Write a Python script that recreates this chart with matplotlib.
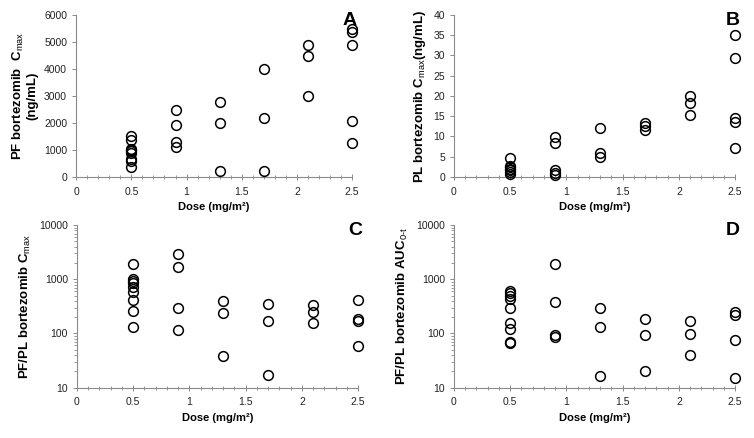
import matplotlib
matplotlib.use("Agg")
import matplotlib.pyplot as plt
from matplotlib.ticker import MultipleLocator, FixedLocator, FuncFormatter, LogLocator, NullFormatter

plt.rcParams.update({
    "font.family": ["Liberation Sans", "DejaVu Sans"],
    "mathtext.fontset": "custom",
    "mathtext.rm": "Liberation Sans",
    "mathtext.it": "Liberation Sans",
    "mathtext.bf": "Liberation Sans:bold",
})

# dose levels (mg/m2)
doses = [0.5, 0.9, 1.3, 1.7, 2.1, 2.5]

# A: PF bortezomib Cmax (ng/mL)
pf_cmax = [
    [1500, 1350, 1050, 1000, 950, 900, 650, 600, 380],
    [2480, 1920, 1300, 1120],
    [2790, 1980, 235],
    [4000, 2170, 210],
    [4900, 4490, 3000],
    [5480, 5370, 4870, 2080, 1265],
]

# B: PL bortezomib Cmax (ng/mL)
pl_cmax = [
    [4.7, 2.8, 2.4, 2.0, 1.6, 1.2, 0.8],
    [9.8, 8.5, 1.7, 1.0, 0.4],
    [12.1, 6.0, 5.0],
    [13.2, 12.6, 11.7],
    [20.0, 18.3, 15.2],
    [35.0, 29.3, 14.5, 13.5, 7.1],
]

# C: PF/PL Cmax ratio
ratio_cmax = [
    [1950, 1000, 940, 870, 730, 590, 420, 265, 132],
    [2890, 1680, 297, 117],
    [394, 239, 39],
    [356, 172, 17],
    [331, 249, 154],
    [410, 182, 170, 59],
]

# D: PF/PL AUC0-t ratio
ratio_auc = [
    [600, 547, 500, 435, 292, 156, 121, 70, 66],
    [1890, 378, 95, 86],
    [300, 132, 16.4],
    [188, 92, 20.4],
    [168, 98, 40],
    [250, 217, 77, 15.3],
]

fig = plt.figure(figsize=(7.54, 4.38), dpi=100)

panels = [
    ([0.101, 0.596, 0.366, 0.370], pf_cmax, "A", "PF bortezomib  C$_{\\mathrm{max}}$\n(ng/mL)", False),
    ([0.602, 0.596, 0.373, 0.370], pl_cmax, "B", "PL bortezomib C$_{\\mathrm{max}}$(ng/mL)", False),
    ([0.102, 0.115, 0.373, 0.371], ratio_cmax, "C", "PF/PL bortezomib C$_{\\mathrm{max}}$", True),
    ([0.602, 0.115, 0.373, 0.371], ratio_auc, "D", "PF/PL bortezomib AUC$_{\\mathrm{0\\text{-}t}}$", True),
]

GREY = "#8a8a8a"

for rect, vals, letter, ylab, logy in panels:
    ax = fig.add_axes(rect)
    for d, ys in zip(doses, vals):
        ax.plot([d] * len(ys), ys, "o", ms=7, mfc="none", mec="black", mew=1.1,
                clip_on=False, zorder=3)
    ax.set_xlim(0, 2.5)
    ax.xaxis.set_major_locator(FixedLocator([0, 0.5, 1, 1.5, 2, 2.5]))
    ax.xaxis.set_major_formatter(FuncFormatter(lambda v, p: "%g" % v))
    ax.xaxis.set_minor_locator(MultipleLocator(0.1))
    if logy:
        ax.set_yscale("log")
        ax.set_ylim(10, 10000)
        ax.yaxis.set_major_locator(FixedLocator([10, 100, 1000, 10000]))
        ax.yaxis.set_major_formatter(FuncFormatter(lambda v, p: "%d" % v))
        ax.yaxis.set_minor_locator(LogLocator(base=10, subs=range(2, 10)))
        ax.yaxis.set_minor_formatter(NullFormatter())
    elif letter == "A":
        ax.set_ylim(0, 6000)
        ax.yaxis.set_major_locator(MultipleLocator(1000))
    else:
        ax.set_ylim(0, 40)
        ax.yaxis.set_major_locator(MultipleLocator(5))
    for s in ["top", "right"]:
        ax.spines[s].set_visible(False)
    for s in ["left", "bottom"]:
        ax.spines[s].set_color(GREY)
        ax.spines[s].set_linewidth(0.8)
    ax.tick_params(axis="both", which="major", labelsize=7.5, colors=GREY,
                   labelcolor="#222222", length=3, width=0.7)
    ax.tick_params(axis="x", which="major", direction="inout", length=4, pad=5)
    ax.tick_params(axis="x", which="minor", direction="inout", length=3, width=0.6, colors=GREY)
    ax.tick_params(axis="y", which="minor", direction="out", length=2, width=0.6, colors=GREY)
    ax.set_xlabel("Dose (mg/m²)", fontsize=8, fontweight="bold", labelpad=4)
    ax.set_ylabel(ylab, fontsize=9.5, fontweight="bold", labelpad=4, linespacing=1.0)
    ax.text(0.99, 1.02, letter, transform=ax.transAxes, ha="center", va="top",
            fontsize=14, fontweight="bold", zorder=5)

fig.savefig("out.png", dpi=100)
